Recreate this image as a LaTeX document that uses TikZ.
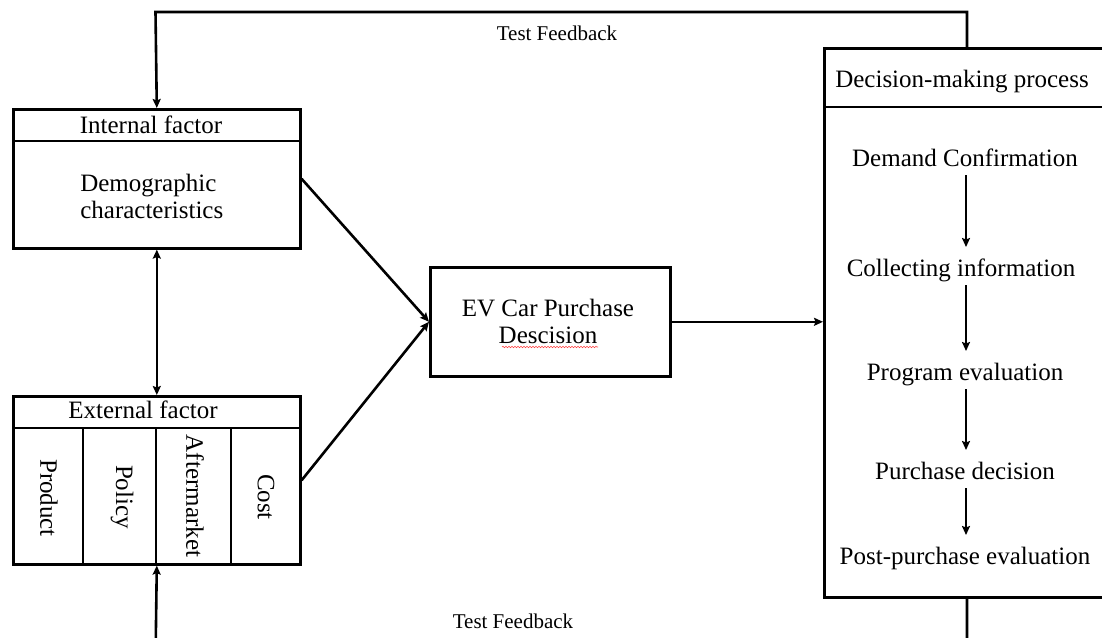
\documentclass[tikz,border=0pt]{standalone}
\usepackage{fontspec}
\setmainfont{Liberation Serif}
\usetikzlibrary{arrows.meta,decorations.pathmorphing}
\begin{document}
\begin{tikzpicture}[x=1pt,y=-1pt,
  line width=2.6pt,
  box/.style={draw, line width=2.6pt, inner sep=0pt, anchor=north west},
  txt/.style={font=\fontsize{25}{27}\selectfont, inner sep=0pt},
  fbtxt/.style={font=\fontsize{21}{25}\selectfont, inner sep=0pt, anchor=base},
  tip/.style={-{Stealth[length=9pt,width=8pt,inset=1.5pt]}},
  dtip/.style={{Stealth[length=9pt,width=8pt,inset=1.5pt]}-{Stealth[length=9pt,width=8pt,inset=1.5pt]}},
  stepnode/.style={txt, anchor=base},
  steparrow/.style={tip, shorten <=9pt, shorten >=29pt}
]
\useasboundingbox (0,0) rectangle (1102,637);
\clip (0,0) rectangle (1102,637);

% Internal factor box
\node[box, minimum width=287pt, minimum height=139pt] (intbox) at (12,108) {};
\draw (intbox.west |- 0,141) -- (intbox.east |- 0,141);
\node[txt, anchor=base] (intlbl) at (151,133) {Internal factor};
\node[txt, align=left, anchor=west] (demo) at (79,196) {Demographic\\characteristics};

% External factor box with four columns
\node[box, minimum width=287pt, minimum height=168pt] (extbox) at (12,395) {};
\draw (extbox.west |- 0,428) -- (extbox.east |- 0,428);
\foreach \cx in {83,156,231} \draw (\cx,428) -- (\cx,563);
\node[txt, anchor=base] (extlbl) at (143,418) {External factor};
\node[txt, rotate=-90] (prod) at (49,498) {Product};
\node[txt, rotate=-90] (pol) at (122,497) {Policy};
\node[txt, rotate=-90] (after) at (195,496) {Aftermarket};
\node[txt, rotate=-90] (cost) at (266,497) {Cost};

% Central decision box
\node[box, minimum width=240pt, minimum height=109pt] (ev) at (429,266) {};
\node[txt, align=center] (evtxt) at (548,321) {EV Car Purchase\\Descision};
\draw[red!75, line width=0.6pt, decorate,
      decoration={snake, amplitude=0.7pt, segment length=3pt}]
  (502,347) -- (598,347);

% Decision-making process box
\node[box, minimum width=300pt, minimum height=549pt] (dmp) at (823,47) {};
\draw (dmp.west |- 0,107) -- (dmp.east |- 0,107);
\node[txt, anchor=base] (dmplbl) at (962,87) {Decision-making process};

\node[stepnode] (s1) at (965,166) {Demand Confirmation};
\node[stepnode] (s2) at (961,276) {Collecting information};
\node[stepnode] (s3) at (965,380) {Program evaluation};
\node[stepnode] (s4) at (965,479) {Purchase decision};
\node[stepnode] (s5) at (965,564) {Post-purchase evaluation};
\coordinate (ax) at (966,0);
\draw[steparrow] (s1.base -| ax) -- (s2.base -| ax);
\draw[steparrow] (s2.base -| ax) -- (s3.base -| ax);
\draw[steparrow] (s3.base -| ax) -- (s4.base -| ax);
\draw[steparrow] (s4.base -| ax) -- (s5.base -| ax);

% Connectors between the blocks
\draw[tip] (intbox.east) -- (ev.west);
\draw[tip] (extbox.east) -- (ev.west);
\draw[tip] (ev.east) -- (ev.east -| dmp.west);
\draw[dtip] (intbox.south) -- (extbox.north);

% Feedback loops
\coordinate (fbtopR) at (967,12);
\coordinate (fbtopL) at (155.5,12);
\coordinate (fbbotR) at (967,660);
\coordinate (fbbotL) at (155.5,660);
\draw[tip] (fbtopR |- dmp.north) -- (fbtopR) -- (fbtopL) -- (intbox.north);
\draw[tip] (fbbotR |- dmp.south) -- (fbbotR) -- (fbbotL) -- (extbox.south);
\node[fbtxt] (fbtop) at (557,40) {Test Feedback};
\node[fbtxt] (fbbot) at (513,628) {Test Feedback};
\end{tikzpicture}
\end{document}
